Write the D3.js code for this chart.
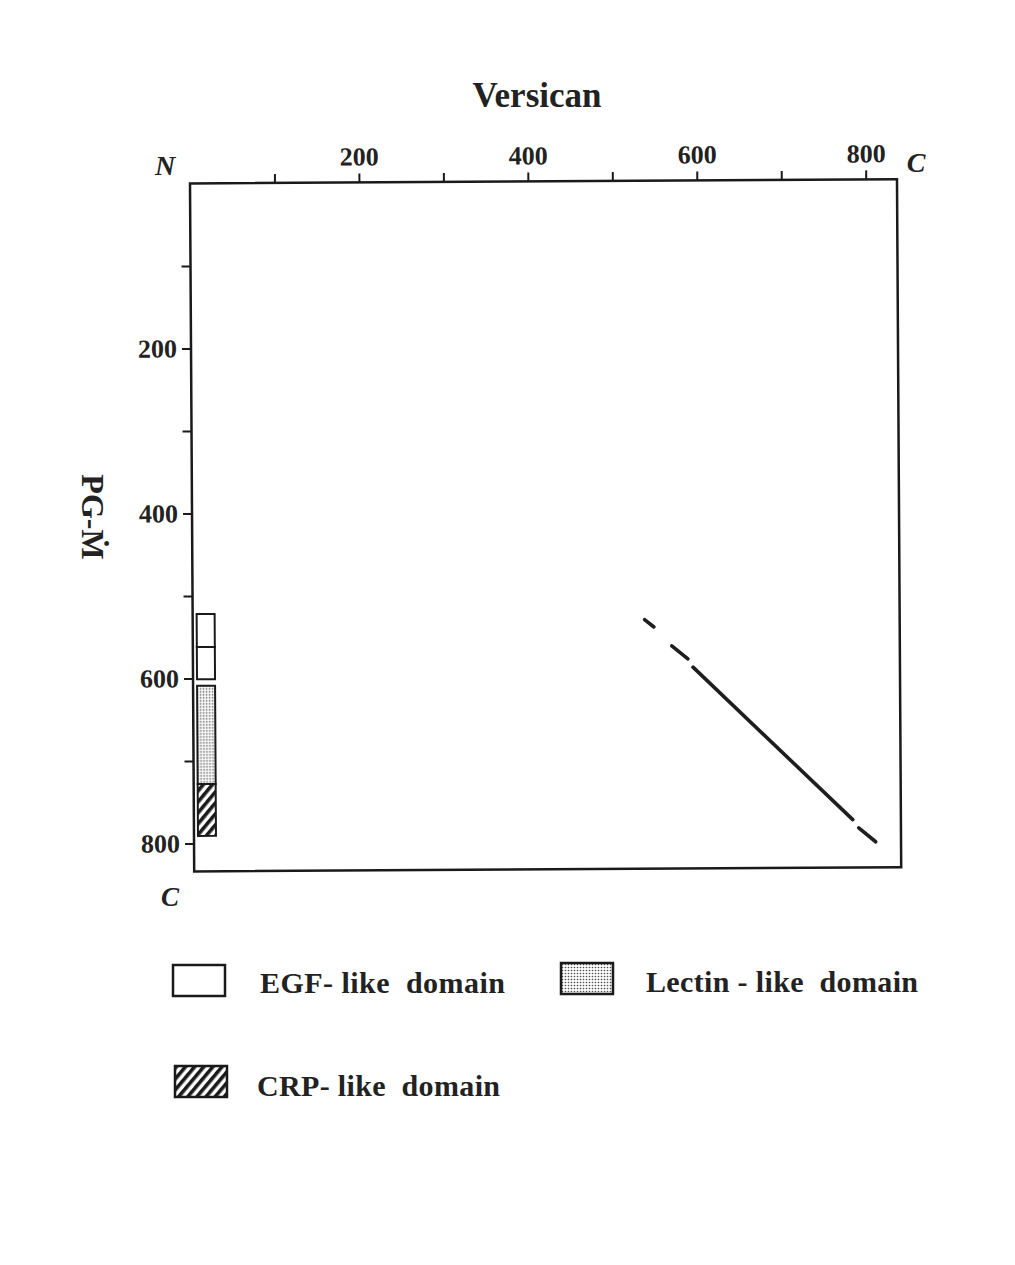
<!DOCTYPE html>
<html>
<head>
<meta charset="utf-8">
<script src="https://cdn.jsdelivr.net/npm/d3@7"></script>
<style>
  html, body { margin: 0; padding: 0; background: #fff; }
  svg { display: block; }
  text { font-family: "Liberation Serif", "DejaVu Serif", serif; fill: #222; }
</style>
</head>
<body>
<svg id="chart" width="1015" height="1265"></svg>
<script>
// ---------- data ----------
const xTicks = [100, 200, 300, 400, 500, 600, 700, 800];
const yTicks = [100, 200, 300, 400, 500, 600, 700, 800];
const labelledTicks = [200, 400, 600, 800];
const xDomainMax = 837;   // Versican residues shown
const yDomainMax = 834;   // PG-M residues shown

// similarity segments: [versicanStart, pgmStart, versicanEnd, pgmEnd]
const segX1 = [535, 567, 592, 787];
const segY1 = [532, 564, 590, 786];
const segX2 = [546, 586, 780, 807];
const segY2 = [541, 580, 776, 803];

// PG-M domain boxes (residue ranges)
const domainType  = ["egf", "egf", "lectin", "crp"];
const domainStart = [522, 562, 609, 728];
const domainEnd   = [562, 601, 728, 791];

// legend
const legendTypes  = ["egf", "lectin", "crp"];
const legendLabels = ["EGF- like  domain", "Lectin - like  domain", "CRP- like  domain"];

// ---------- drawing ----------
const svg = d3.select("#chart");
const ox = 190, oy = 183.5, pw = 707, ph = 688;

const defs = svg.append("defs");
const dots = defs.append("pattern").attr("id", "pat-lectin")
  .attr("patternUnits", "userSpaceOnUse").attr("width", 3).attr("height", 3);
dots.append("rect").attr("width", 3).attr("height", 3).attr("fill", "#fafafa");
dots.append("circle").attr("cx", 1.5).attr("cy", 1.5).attr("r", 0.8).attr("fill", "#4a4a4a");

const hatch = defs.append("pattern").attr("id", "pat-crp")
  .attr("patternUnits", "userSpaceOnUse").attr("width", 7).attr("height", 7)
  .attr("patternTransform", "rotate(40)");
hatch.append("rect").attr("width", 7).attr("height", 7).attr("fill", "#fff");
hatch.append("rect").attr("width", 3.6).attr("height", 7).attr("fill", "#1a1a1a");

const fillFor = t => t === "egf" ? "#fff" : t === "lectin" ? "url(#pat-lectin)" : "url(#pat-crp)";

const x = d3.scaleLinear().domain([0, xDomainMax]).range([0, pw]);
const y = d3.scaleLinear().domain([0, yDomainMax]).range([0, ph]);

const g = svg.append("g")
  .attr("transform", `translate(${ox},${oy}) rotate(-0.35)`);

// axes
const xAxis = d3.axisTop(x).tickValues(xTicks).tickSize(9).tickPadding(8)
  .tickFormat(d => labelledTicks.includes(d) ? d : "");
const yAxis = d3.axisLeft(y).tickValues(yTicks).tickSize(9).tickPadding(5)
  .tickFormat(d => labelledTicks.includes(d) ? d : "");

const gx = g.append("g").call(xAxis);
const gy = g.append("g").call(yAxis);
[gx, gy].forEach(a => {
  a.select(".domain").remove();
  a.selectAll(".tick line").attr("stroke", "#1a1a1a").attr("stroke-width", 2);
  a.selectAll(".tick text")
    .style("font-family", '"Liberation Serif", serif')
    .style("font-weight", "bold").style("font-size", "26px").attr("fill", "#222");
});

// plot frame
g.append("rect").attr("x", 0).attr("y", 0).attr("width", pw).attr("height", ph)
  .attr("fill", "none").attr("stroke", "#1a1a1a").attr("stroke-width", 2.5);

// domain boxes
g.selectAll("rect.dom").data(domainType).join("rect").attr("class", "dom")
  .attr("x", 4).attr("width", 18)
  .attr("y", (d, i) => y(domainStart[i]))
  .attr("height", (d, i) => y(domainEnd[i]) - y(domainStart[i]))
  .attr("fill", d => fillFor(d))
  .attr("stroke", "#1a1a1a").attr("stroke-width", 2);

// similarity segments
g.selectAll("line.seg").data(segX1).join("line").attr("class", "seg")
  .attr("x1", (d, i) => x(segX1[i])).attr("y1", (d, i) => y(segY1[i]))
  .attr("x2", (d, i) => x(segX2[i])).attr("y2", (d, i) => y(segY2[i]))
  .attr("stroke", "#1e1e1e").attr("stroke-width", 3.6).attr("stroke-linecap", "round");

// titles and terminal labels
svg.append("text").attr("x", 537).attr("y", 107).attr("text-anchor", "middle")
  .style("font-weight", "bold").style("font-size", "35px").text("Versican");
svg.append("text").attr("transform", "translate(82,517) rotate(90)").attr("text-anchor", "middle")
  .style("font-weight", "bold").style("font-size", "32px").text("PG-Ṁ");
svg.append("text").attr("x", 165).attr("y", 175).attr("text-anchor", "middle")
  .style("font-weight", "bold").style("font-style", "italic").style("font-size", "28px").text("N");
svg.append("text").attr("x", 916).attr("y", 172).attr("text-anchor", "middle")
  .style("font-style", "italic").style("font-weight", "bold").style("font-size", "28px").text("C");
svg.append("text").attr("x", 170).attr("y", 906).attr("text-anchor", "middle")
  .style("font-style", "italic").style("font-weight", "bold").style("font-size", "27px").text("C");

// legend
const legPos = [[173, 965, 260, 993, 245], [561, 963, 646, 992, 272], [175, 1066, 257, 1096, 243]];
const leg = svg.append("g");
legendTypes.forEach((t, i) => {
  const p = legPos[i];
  leg.append("rect").attr("x", p[0]).attr("y", p[1]).attr("width", 52).attr("height", 31)
    .attr("fill", fillFor(t)).attr("stroke", "#1a1a1a").attr("stroke-width", 2.5);
  leg.append("text").attr("x", p[2]).attr("y", p[3])
    .attr("textLength", p[4]).attr("lengthAdjust", "spacing")
    .style("white-space", "pre")
    .style("font-weight", "bold").style("font-size", "30px").text(legendLabels[i]);
});
</script>
</body>
</html>
